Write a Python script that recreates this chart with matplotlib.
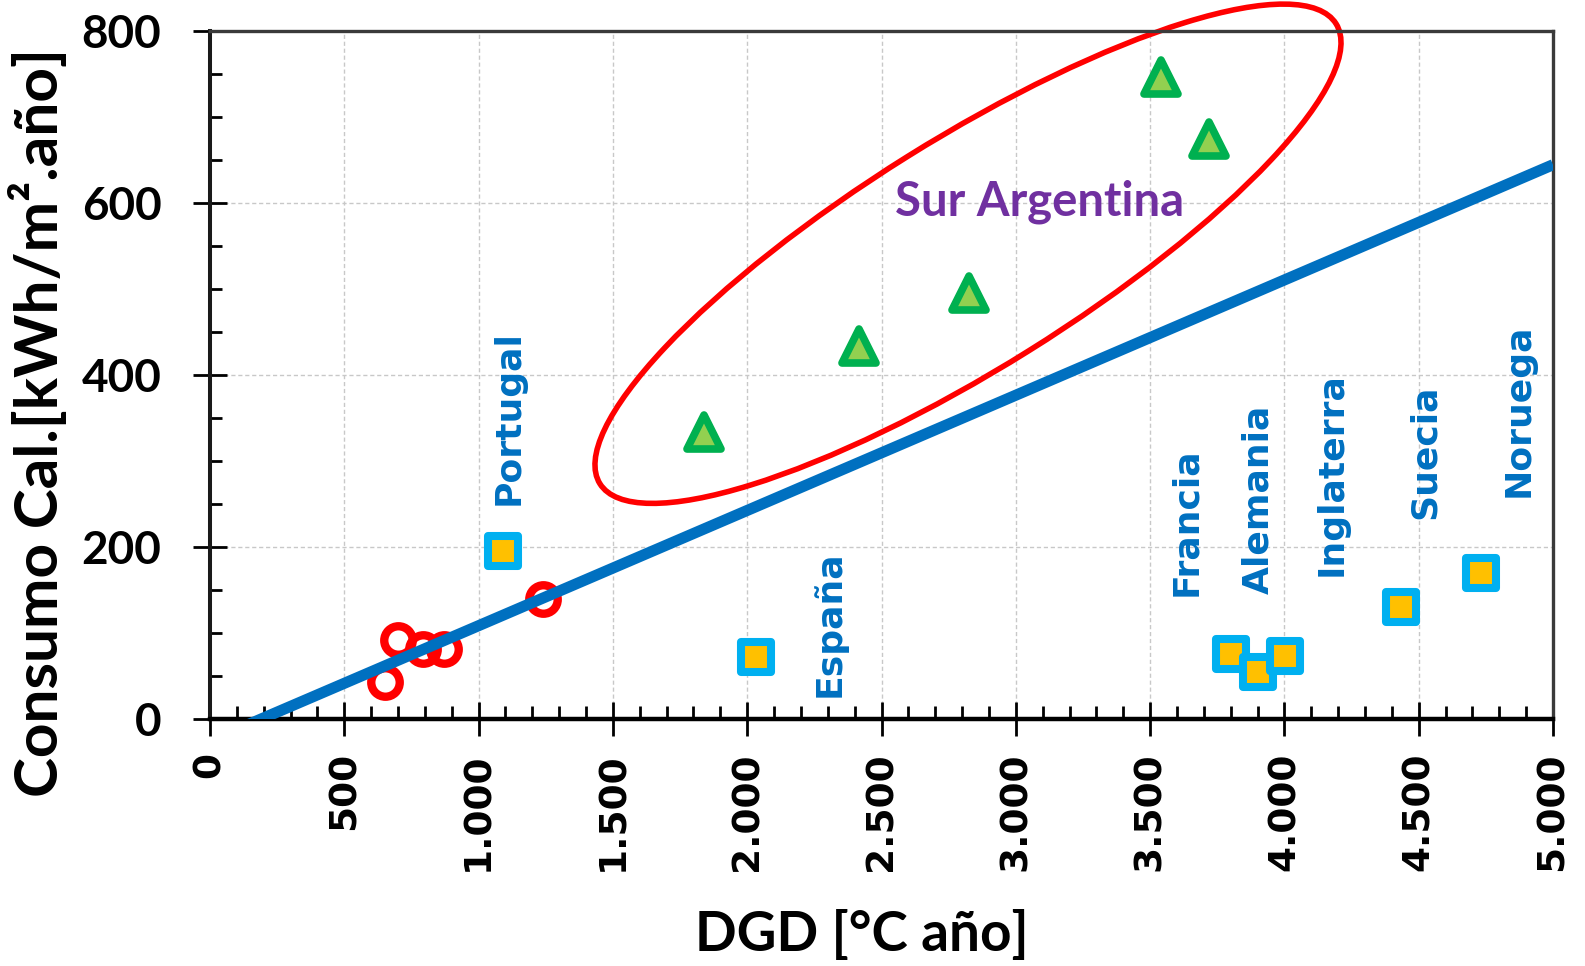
import matplotlib
matplotlib.use('Agg')
import matplotlib.pyplot as plt
import matplotlib.transforms as mtransforms
from matplotlib.patches import Ellipse
from matplotlib.markers import MarkerStyle
from matplotlib.ticker import MultipleLocator, FuncFormatter

# resto de Argentina (circulos rojos)
dgd_arg = [652, 701, 792, 873, 1239]
cons_arg = [43, 92, 81, 81, 140]

# Sur Argentina (triangulos)
dgd_sur = [1839, 2416, 2824, 3541, 3721]
cons_sur = [334, 434, 495, 747, 674]

# Europa (cuadrados)
paises = ['Portugal', 'España', 'Francia', 'Alemania', 'Inglaterra', 'Suecia', 'Noruega']
dgd_eur = [1089, 2033, 3803, 3901, 4001, 4435, 4733]
cons_eur = [195, 72, 76, 55, 73, 130, 170]

# recta de tendencia
trend_slope = 0.134
trend_icpt = -25.5

# anclas de las etiquetas de paises (x, y inferior)
label_x = [1113, 2304, 3633, 3904, 4174, 4524, 4871]
label_y = [249, 26, 143, 145, 166, 233, 258]

plt.rcParams['font.weight'] = 'bold'
plt.rcParams['font.family'] = ['DejaVu Sans']

fig = plt.figure(figsize=(15.85, 9.66), dpi=100)
ax = fig.add_axes([210 / 1585, 1 - 719 / 966, 1343 / 1585, 688 / 966])

ax.set_xlim(0, 5000)
ax.set_ylim(0, 800)

# grid
ax.set_axisbelow(True)
ax.grid(which='major', color='#c8c8c8', linestyle=(0, (3, 2)), linewidth=1)

# ellipse round Sur Argentina, drawn in inches so the angle is not distorted
ell_tr = fig.dpi_scale_trans + mtransforms.ScaledTranslation(2822, 541, ax.transData)
ax.add_patch(Ellipse((0, 0), 8.68, 2.29, angle=32, transform=ell_tr,
                     fill=False, edgecolor='#FF0000', linewidth=4, clip_on=False, zorder=2))

ax.plot(dgd_arg, cons_arg, ls='none', marker='o', ms=20.5, mfc='none',
        mec='#FF0000', mew=6, zorder=3)

tx = [0, 5000]
ty = [trend_slope * v + trend_icpt for v in tx]
ax.plot(tx, ty, color='#0070C0', lw=8, solid_capstyle='butt', zorder=4)

ax.plot(dgd_sur, cons_sur, ls='none', marker=MarkerStyle('^', joinstyle='round'),
        ms=25, mfc='#92D050', mec='#00B050', mew=5.5, zorder=5)

ax.plot(dgd_eur, cons_eur, ls='none', marker=MarkerStyle('s', joinstyle='round'),
        ms=21, mfc='#FFC000', mec='#00B0F0', mew=5.8, zorder=5)

for name, lx, ly in zip(paises, label_x, label_y):
    ax.text(lx, ly, name, rotation=90, ha='center', va='bottom', color='#0070C0',
            fontsize=26, fontweight='bold', zorder=6)

ax.text(2550, 586, 'Sur Argentina', ha='left', va='baseline', color='#7030A0',
        fontsize=34, fontweight='bold', family='Lato', zorder=6)

# ticks
ax.xaxis.set_major_locator(MultipleLocator(500))
ax.xaxis.set_minor_locator(MultipleLocator(100))
ax.yaxis.set_major_locator(MultipleLocator(200))
ax.yaxis.set_minor_locator(MultipleLocator(50))
ax.xaxis.set_major_formatter(FuncFormatter(lambda v, p: f'{int(v):,}'.replace(',', '.')))

ax.tick_params(axis='x', which='major', direction='inout', length=25, width=2,
               pad=11.5, labelsize=27, labelrotation=90, colors='black')
ax.tick_params(axis='x', which='minor', direction='in', length=9.5, width=2)
ax.tick_params(axis='y', which='major', direction='inout', length=24, width=2,
               pad=23, labelsize=33, labelfontfamily='Lato')
ax.tick_params(axis='y', which='minor', direction='in', length=8.5, width=2)

for side in ['top', 'right']:
    ax.spines[side].set_linewidth(2.4)
    ax.spines[side].set_color('#3a3a3a')
ax.spines['left'].set_linewidth(2.9)
ax.spines['left'].set_color('#1a1a1a')
ax.spines['bottom'].set_linewidth(3.2)
ax.spines['bottom'].set_color('black')

ax.set_xlabel('DGD [°C año]', fontsize=39.5, fontweight='bold', family='Lato')
ax.xaxis.set_label_coords((861.5 - 210) / 1343, (719 - 909) / 688)
ax.set_ylabel('Consumo Cal.[kWh/m².año]', fontsize=43.5, fontweight='bold', family='Lato')
ax.yaxis.set_label_coords((68 - 210) / 1343, (719 - 422.5) / 688)

fig.savefig('out.png', dpi=100)
